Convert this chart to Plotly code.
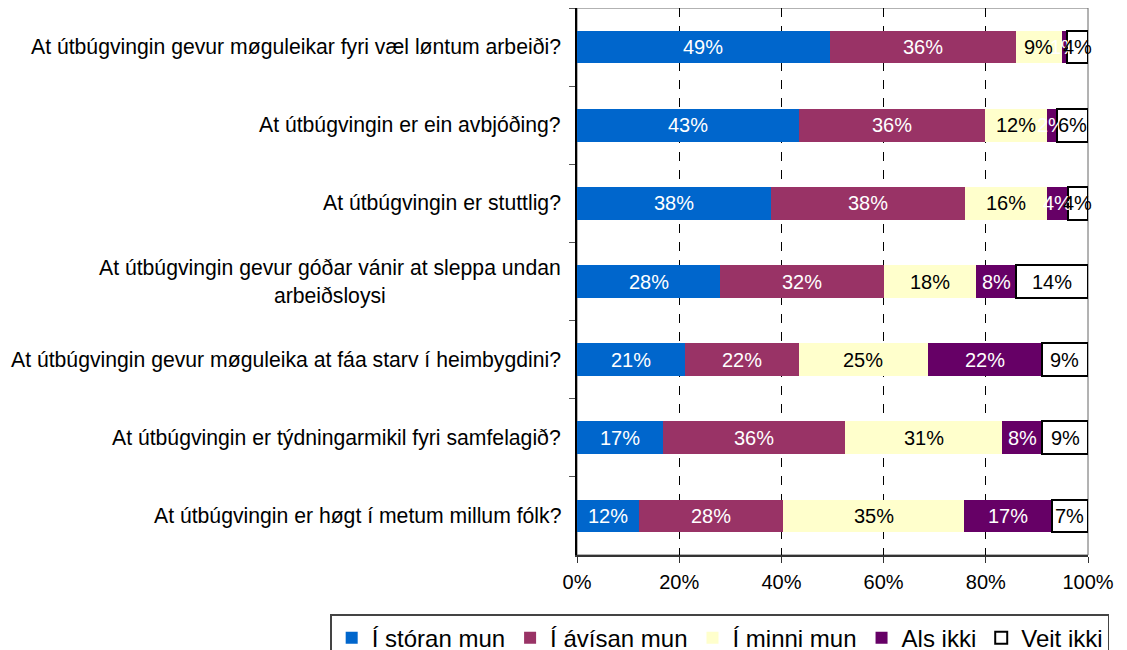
import plotly.graph_objects as go

categories = [
    "At útbúgvingin gevur møguleikar fyri væl løntum arbeiði?",
    "At útbúgvingin er ein avbjóðing?",
    "At útbúgvingin er stuttlig?",
    "At útbúgvingin gevur góðar vánir at sleppa undan<br>arbeiðsloysi",
    "At útbúgvingin gevur møguleika at fáa starv í heimbygdini?",
    "At útbúgvingin er týdningarmikil fyri samfelagið?",
    "At útbúgvingin er høgt í metum millum fólk?",
]
series_names = ["Í stóran mun", "Í ávísan mun", "Í minni mun", "Als ikki", "Veit ikki"]
stor = [49, 43, 38, 28, 21, 17, 12]
avisan = [36, 36, 38, 32, 22, 36, 28]
minni = [9, 12, 16, 18, 25, 31, 35]
als_ikki = [1, 2, 4, 8, 22, 8, 17]
veit_ikki = [4, 6, 4, 14, 9, 9, 7]
x_tick_vals = [0, 20, 40, 60, 80, 100]
x_tick_text = ["0%", "20%", "40%", "60%", "80%", "100%"]

series_values = [stor, avisan, minni, als_ikki, veit_ikki]
fill_colors = ["#0066CC", "#993366", "#FFFFCC", "#660066", "#FFFFFF"]
text_colors = ["white", "white", "black", "white", "black"]
line_colors = ["#0066CC", "#993366", "#FFFFCC", "#660066", "#000000"]
line_widths = [0, 0, 0, 0, 2]

FONT = "Liberation Sans, Arial, sans-serif"

fig = go.Figure()
for name, vals, fc, lc, lw in zip(series_names, series_values, fill_colors, line_colors, line_widths):
    fig.add_trace(go.Bar(
        y=categories, x=vals, name=name, orientation="h",
        marker=dict(color=fc, line=dict(color=lc, width=lw)),
        hoverinfo="skip",
    ))

# value labels (centered in each normalized segment, may overflow like the original)
annotations = []
for i, cat in enumerate(categories):
    total = sum(s[i] for s in series_values)
    cum = 0.0
    for k, s in enumerate(series_values):
        v = s[i] / total * 100
        annotations.append(dict(
            x=cum + v / 2, y=cat, xref="x", yref="y", text=f"{s[i]}%",
            showarrow=False, font=dict(family=FONT, size=20, color=text_colors[k]),
        ))
        cum += v
    annotations.append(dict(
        x=0, y=cat, xref="paper", yref="y", text=cat, showarrow=False,
        xanchor="right", xshift=-14, align="center",
        font=dict(family=FONT, size=21.2, color="black"),
    ))

fig.update_layout(
    barmode="stack", barnorm="percent", bargap=0.58,
    width=1127, height=650,
    margin=dict(l=569, r=47, t=0, b=103, autoexpand=False),
    plot_bgcolor="white", paper_bgcolor="white",
    font=dict(family=FONT, size=20, color="black"),
    annotations=annotations,
    legend=dict(
        orientation="h", x=-0.483, xanchor="left", y=-0.108, yanchor="top",
        bordercolor="#444444", borderwidth=1.5, bgcolor="white",
        font=dict(family=FONT, size=24, color="black"),
        traceorder="normal", itemwidth=30,
    ),
    xaxis=dict(
        range=[0, 100], tickmode="array", tickvals=x_tick_vals, ticktext=x_tick_text,
        showgrid=True, gridcolor="black", griddash="dash", gridwidth=1,
        showline=True, linecolor="#333333", linewidth=1.5,
        ticks="outside", ticklen=6, tickcolor="#333333",
        ticklabelstandoff=2, zeroline=False,
        tickfont=dict(family=FONT, size=20),
    ),
    yaxis=dict(
        categoryorder="array", categoryarray=categories, autorange="reversed",
        showticklabels=False, showline=True, linecolor="black", linewidth=1.5,
        ticks="outside", tickson="boundaries", ticklen=6, tickcolor="#555555",
        showgrid=False, zeroline=False,
    ),
    shapes=[dict(type="rect", xref="paper", yref="paper", x0=0, x1=1, y0=0, y1=1,
                 line=dict(color="#666666", width=1), layer="below")],
)

fig.write_html("out.html")
